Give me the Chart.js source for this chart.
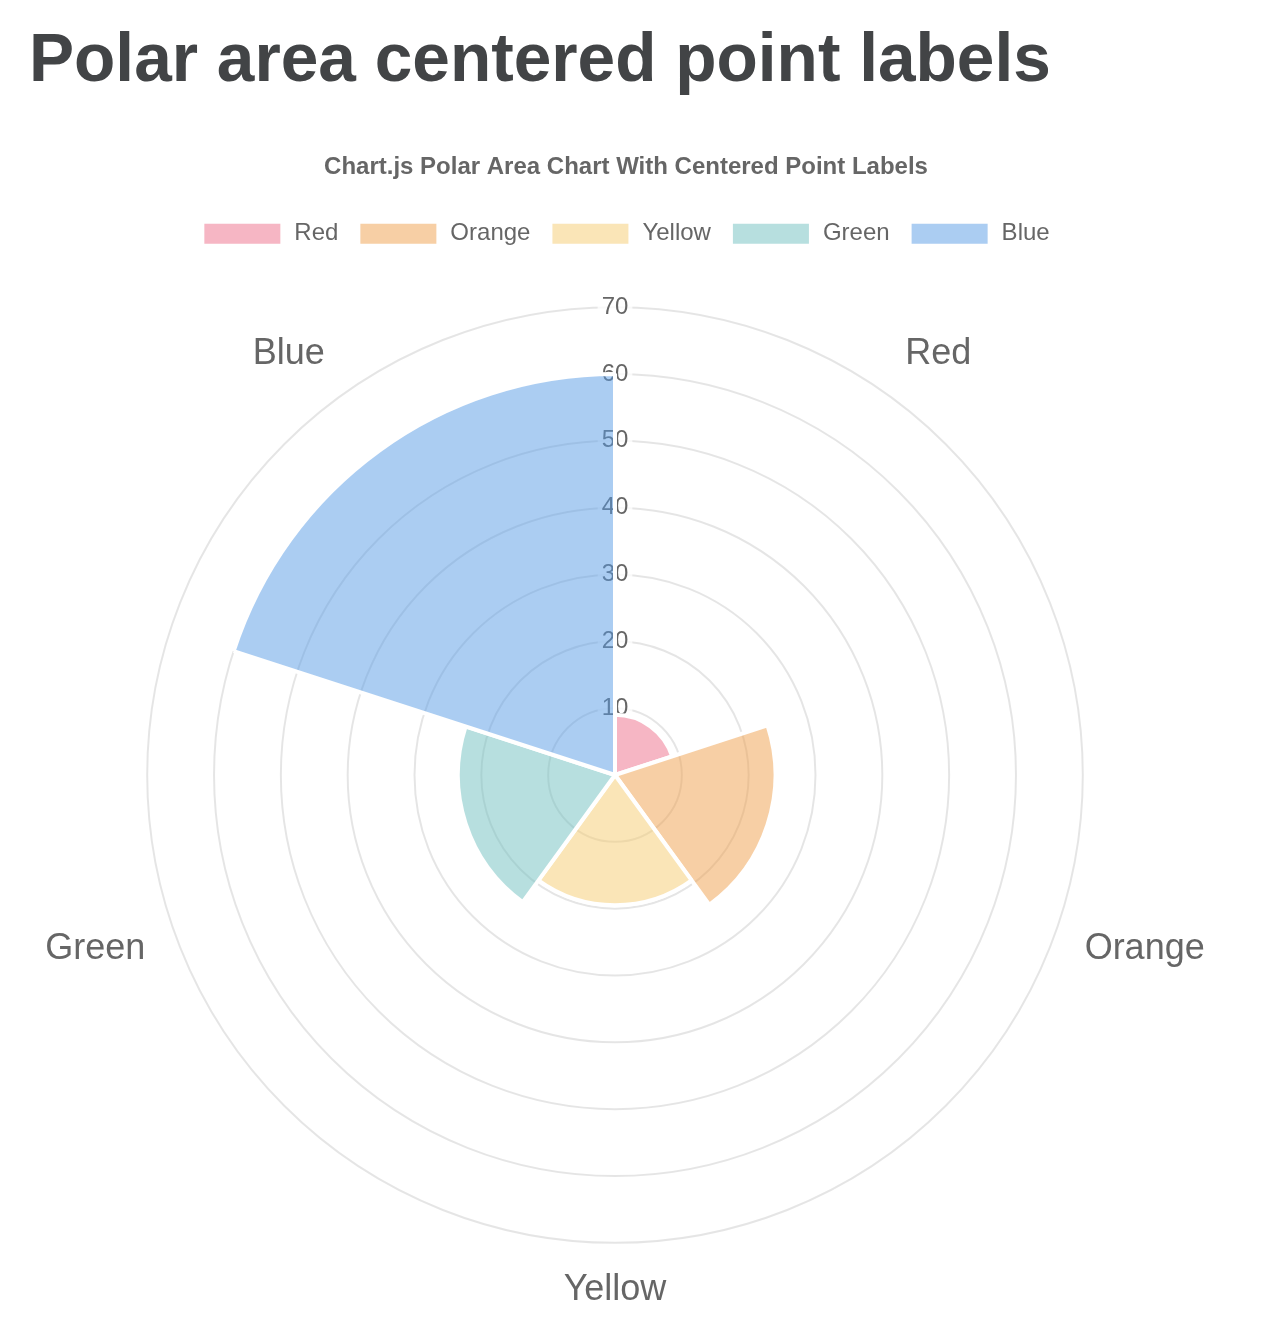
<!DOCTYPE html>
<html>
<head>
<meta charset="utf-8">
<script src="https://cdn.jsdelivr.net/npm/chart.js@4"></script>
<style>
  body { margin: 0; background: #fff; }
  h1 {
    position: absolute; left: 29px; top: 0; margin: 0;
    font: bold 67.6px "Liberation Sans", Arial, sans-serif;
    color: #424446; line-height: 116px;
  }
  #wrap { position: absolute; left: 22px; top: 133px; width: 1208px; height: 1206px; }
</style>
</head>
<body>
<h1>Polar area centered point labels</h1>
<div id="wrap"><canvas id="chart"></canvas></div>
<script>
const labels = ['Red', 'Orange', 'Yellow', 'Green', 'Blue'];
const values = [9, 24, 19.5, 23.5, 60];
const colors = [
    'rgba(237, 109, 137, 0.5)',
    'rgba(239, 159, 75, 0.5)',
    'rgba(245, 203, 111, 0.5)',
    'rgba(111, 191, 191, 0.5)',
    'rgba(87, 155, 229, 0.5)'
];

Chart.defaults.font.family = '"Liberation Sans", Arial, sans-serif';
Chart.defaults.color = '#666';

// a little more room under the legend
const legendGap = {
    id: 'legendGap',
    beforeInit(chart) {
        const fit = chart.legend.fit;
        chart.legend.fit = function () {
            fit.bind(chart.legend)();
            this.height += 10;
        };
    }
};

new Chart(document.getElementById('chart'), {
    type: 'polarArea',
    data: {
        labels: labels,
        datasets: [{
            label: 'Dataset 1',
            data: values,
            backgroundColor: colors,
            borderColor: '#fff',
            borderWidth: 4
        }]
    },
    options: {
        responsive: true,
        maintainAspectRatio: false,
        animation: false,
        scales: {
            r: {
                max: 70,
                ticks: { stepSize: 10, font: { size: 24 }, backdropPadding: 4 },
                grid: { lineWidth: 2 },
                pointLabels: {
                    display: true,
                    centerPointLabels: true,
                    padding: 10,
                    font: { size: 36 }
                }
            }
        },
        plugins: {
            legend: {
                position: 'top',
                labels: { font: { size: 24 }, boxWidth: 80, padding: 20 }
            },
            title: {
                display: true,
                text: 'Chart.js Polar Area Chart With Centered Point Labels',
                font: { size: 24, weight: 'bold' },
                padding: 20
            }
        }
    },
    plugins: [legendGap]
});
</script>
</body>
</html>
